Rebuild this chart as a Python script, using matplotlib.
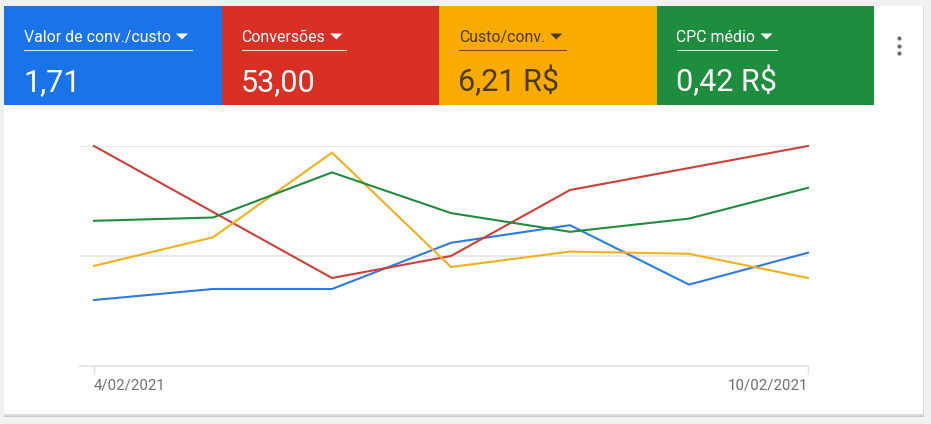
import numpy as np
import matplotlib.pyplot as plt
from matplotlib.patches import Rectangle

plt.rcParams['font.family'] = ['Roboto', 'DejaVu Sans']

# scorecard tiles
metric_names = ['Valor de conv./custo', 'Conversões', 'Custo/conv.', 'CPC médio']
metric_values = ['1,71', '53,00', '6,21 R$', '0,42 R$']
tile_colors = ['#1a73e8', '#d93025', '#f9ab00', '#1e8e3e']
text_colors = ['white', 'white', '#4a3b05', 'white']

# daily series (each normalised to the chart's own scale, 2 = top gridline)
dates = ['4/02/2021', '5/02/2021', '6/02/2021', '7/02/2021',
         '8/02/2021', '9/02/2021', '10/02/2021']
valor_conv_custo = [0.60, 0.70, 0.70, 1.12, 1.28, 0.74, 1.03]
conversoes = [2.00, 1.40, 0.80, 1.00, 1.60, 1.80, 2.00]
custo_conv = [0.91, 1.17, 1.94, 0.90, 1.04, 1.02, 0.80]
cpc_medio = [1.32, 1.35, 1.76, 1.39, 1.22, 1.34, 1.62]
series = [valor_conv_custo, conversoes, custo_conv, cpc_medio]
line_colors = ['#2f7ae5', '#cc4137', '#f2b01e', '#238b3f']

W, H = 931, 424
fig = plt.figure(figsize=(W / 100, H / 100), dpi=100)
fig.patch.set_facecolor('#f1f1f1')

# background layer in pixel coordinates
bg = fig.add_axes([0, 0, 1, 1], zorder=0)
bg.set_xlim(0, W)
bg.set_ylim(H, 0)
bg.axis('off')

# card with a soft shadow
bg.add_patch(Rectangle((4, 8), 920, 409, color='#c8c8c8', lw=0))
bg.add_patch(Rectangle((4, 7), 919.5, 408.5, color='#dadada', lw=0))
bg.add_patch(Rectangle((4, 6), 919, 408, color='white', lw=0))

tile_w = 217.5
fig.canvas.draw()
for i, (name, val, col, tcol) in enumerate(zip(metric_names, metric_values, tile_colors, text_colors)):
    x0 = 4 + i * tile_w
    bg.add_patch(Rectangle((x0, 6), tile_w, 99, color=col, lw=0))
    t = bg.text(x0 + 20, 42, name, color=tcol, fontsize=11.4,
                ha='left', va='baseline')
    bb = t.get_window_extent(renderer=fig.canvas.get_renderer())
    x_end = x0 + 20 + bb.width
    # dropdown arrow
    bg.fill([x_end + 5, x_end + 17, x_end + 11], [33.5, 33.5, 39.5], color=tcol, lw=0)
    bg.plot([x0 + 20, x_end + 21], [49.5, 49.5], color=tcol, lw=0.8, alpha=0.8)
    bg.text(x0 + 19, 91, val, color=tcol, fontsize=22, ha='left', va='baseline')

# kebab menu
bg.scatter([899, 899, 899], [38, 45.5, 53], s=9, color='#6d6d6d', lw=0)

# line chart
ax = fig.add_axes([80 / W, (H - 366) / H, 728 / W, 220 / H], zorder=1)
ax.patch.set_alpha(0)
x = np.arange(len(dates))
for s, c in zip(series, line_colors):
    ax.plot(x, s, color=c, lw=1.5, clip_on=False)

ax.set_xlim(-14 / 119, len(dates) - 1)
ax.set_ylim(0, 2)
ax.set_yticks([1, 2])
ax.yaxis.grid(True, color='#e4e4e4', lw=1.2)
ax.tick_params(axis='y', length=0, labelleft=False)
ax.set_xticks([0, len(dates) - 1])
ax.set_xticklabels([dates[0], dates[-1]], color='#6f6f6f', fontsize=10.8)
ax.tick_params(axis='x', length=6, color='#e0e0e0', width=1, pad=3)
ax.get_xticklabels()[0].set_ha('left')
ax.get_xticklabels()[1].set_ha('right')
for side in ['top', 'right', 'left']:
    ax.spines[side].set_visible(False)
ax.spines['bottom'].set_color('#e0e0e0')
ax.spines['bottom'].set_linewidth(1.2)
ax.set_axisbelow(True)

fig.savefig('out.png', dpi=100, facecolor=fig.get_facecolor())
